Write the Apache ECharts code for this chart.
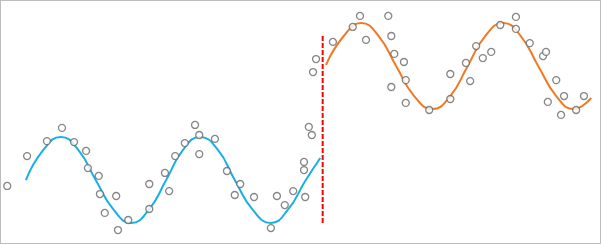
<!DOCTYPE html>
<html>
<head>
<meta charset="utf-8">
<script src="https://cdn.jsdelivr.net/npm/echarts@6/dist/echarts.min.js"></script>
<style>
html,body{margin:0;padding:0;background:#fff;}
#chart{position:absolute;left:0;top:0;width:602px;height:245px;}
#frame{position:absolute;left:0;top:0;width:601px;height:244px;box-sizing:border-box;border:1px solid #bdbdbd;pointer-events:none;}
</style>
</head>
<body>
<div id="chart"></div>
<div id="frame"></div>
<script>
// Observations below the cutoff (running variable, outcome)
const leftPoints = [
  [-52.4,24.1],[-49.1,36.3],[-45.8,42.4],[-43.3,47.8],[-41.3,42.0],[-39.3,38.4],
  [-39.0,31.4],[-37.2,28.2],[-37.0,20.8],[-34.3,20.0],[-36.2,13.1],[-32.3,10.2],
  [-34.0,6.1],[-28.8,24.9],[-28.8,14.7],[-26.2,29.4],[-25.5,22.0],[-24.5,36.3],
  [-22.9,41.6],[-21.2,49.0],[-20.5,44.9],[-20.5,37.1],[-17.9,43.3],[-15.9,30.2],
  [-13.7,24.9],[-14.6,20.4],[-11.4,19.6],[-8.6,6.9],[-7.6,20.0],[-6.3,16.3],
  [-4.9,22.0],[-2.9,19.6],[-3.1,30.6],[-3.1,33.9],[-2.3,48.2],[-1.8,44.9],
  [-1.6,70.6],[-1.1,75.9]
];
// Observations above the cutoff
const rightPoints = [
  [1.7,82.9],[5.0,89.0],[6.2,93.5],[7.2,83.7],[10.9,93.5],[11.4,85.3],
  [11.9,78.0],[11.4,64.5],[13.5,74.7],[13.8,67.3],[13.8,58.0],[17.7,55.1],
  [21.2,69.8],[21.2,59.6],[23.8,74.3],[24.5,66.9],[25.5,81.2],[26.6,76.3],
  [28.0,78.8],[29.5,89.8],[32.1,93.1],[32.1,88.2],[34.4,82.4],[36.6,77.1],
  [37.1,78.8],[38.8,67.3],[37.4,58.4],[40.1,60.8],[39.6,53.1],[42.1,55.1],
  [43.4,60.8]
];
// Fitted curve below the cutoff
const leftFit = [
  [-49.3,26.5],[-46.4,38.8],[-43.5,44.1],[-40.6,38.8],[-37.7,26.5],[-34.7,14.3],
  [-31.8,9.0],[-28.9,14.3],[-26.0,26.5],[-23.2,38.8],[-20.4,44.1],[-17.4,38.8],
  [-14.6,26.5],[-11.6,14.3],[-8.6,9.0],[-5.8,14.3],[-2.9,26.1],[-0.4,35.5]
];
// Fitted curve above the cutoff
const rightFit = [
  [0.55,73.5],[3.5,85.3],[6.4,90.6],[9.3,85.3],[12.2,73.1],[15.2,60.8],
  [18.2,55.5],[21.2,60.8],[24.1,73.1],[27.0,85.3],[30.0,90.6],[32.9,85.3],
  [35.8,73.1],[38.8,60.8],[41.7,55.5],[44.6,60.0]
];
// Cutoff marker
const cutoff = 0;
const cutoffRange = [9.0, 85.3];

const chart = echarts.init(document.getElementById('chart'), null, {renderer:'canvas'});
const pointStyle = {color:'#ffffff', borderColor:'#686868', borderWidth:1.3};
chart.setOption({
  animation:false,
  backgroundColor:'#ffffff',
  grid:{left:0,right:0,top:0,bottom:0,containLabel:false},
  xAxis:{type:'value',min:-53.6,max:46.4,show:false},
  yAxis:{type:'value',min:0,max:100,show:false},
  series:[
    {type:'line',data:leftFit,smooth:true,showSymbol:false,z:2,
     lineStyle:{color:'#1aaee8',width:2}},
    {type:'line',data:rightFit,smooth:true,showSymbol:false,z:2,
     lineStyle:{color:'#ef7a25',width:2}},
    {type:'line',data:cutoffRange.map(v=>[cutoff,v]),showSymbol:false,z:3,
     lineStyle:{color:'#ff0000',width:2,type:[5,2]}},
    {type:'scatter',data:leftPoints,symbol:'circle',symbolSize:7,z:4,itemStyle:pointStyle},
    {type:'scatter',data:rightPoints,symbol:'circle',symbolSize:7,z:4,itemStyle:pointStyle}
  ]
});
</script>
</body>
</html>
